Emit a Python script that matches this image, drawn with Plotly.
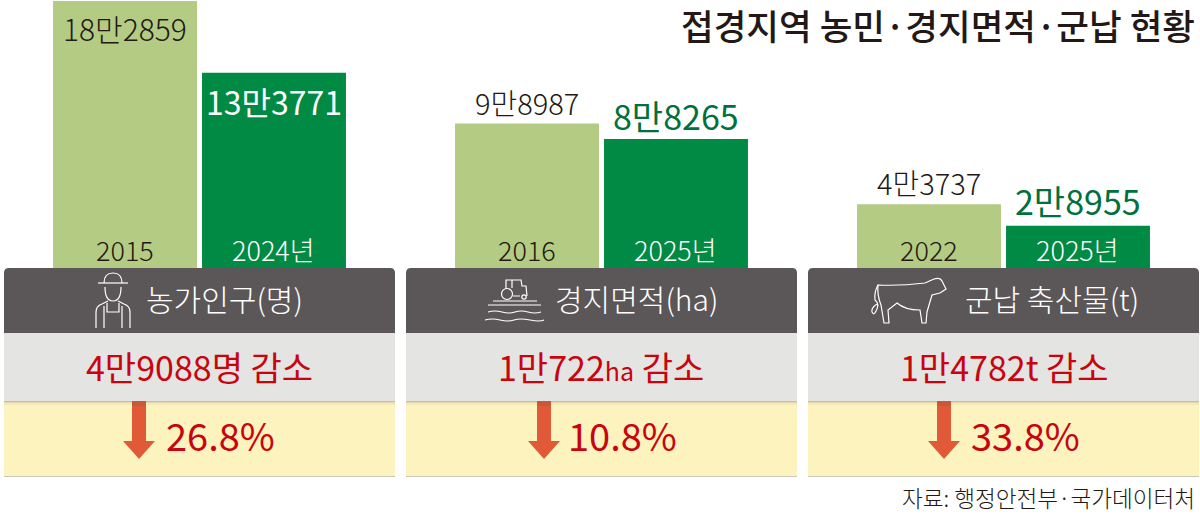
import plotly.graph_objects as go

FONT = "Noto Sans CJK KR"

# data
years_farm = ["2015", "2024년"]
years_land = ["2016", "2025년"]
years_army = ["2022", "2025년"]
values_farm = [182859, 133771]
values_land = [98987, 88265]
values_army = [43737, 28955]
labels_farm = ["18만2859", "13만3771"]
labels_land = ["9만8987", "8만8265"]
labels_army = ["4만3737", "2만8955"]
panel_names = ["농가인구(명)", "경지면적(ha)", "군납 축산물(t)"]
decreases = [
    "4만9088명 감소",
    "1만722<span style='font-size:25px'>ha</span> 감소",
    "1만4782t 감소",
]
percents = ["26.8%", "10.8%", "33.8%"]

LIGHT = "#B3CB82"
DARK = "#008A43"
RED = "#C8040F"

fig = go.Figure()

groups = [
    ("x", years_farm, values_farm, labels_farm, [0.0421, 0.2904]),
    ("x2", years_land, values_land, labels_land, [0.3771, 0.6254]),
    ("x3", years_army, values_army, labels_army, [0.7121, 0.9604]),
]
# offset of the value label from the bar top, and its look
label_styles = [
    [(-27, 30, "#231815", 300), (-28, 32, "white", 400)],
    [(21, 29, "#231815", 300), (24, 34, "#00713D", 400)],
    [(22, 29, "#231815", 300), (25, 34, "#00713D", 400)],
]

annotations = []
for (xname, years, values, labels, domain), styles in zip(groups, label_styles):
    fig.add_trace(
        go.Bar(
            x=years,
            y=values,
            xaxis=xname,
            yaxis="y",
            marker=dict(color=[LIGHT, DARK], line_width=0),
            hoverinfo="skip",
        )
    )
    axis_key = "xaxis" + xname[1:]
    fig.update_layout(
        {
            axis_key: dict(
                domain=domain,
                type="category",
                range=[-0.5, 1.5],
                visible=False,
                fixedrange=True,
                anchor="y",
            )
        }
    )
    for i in range(2):
        shift, size, color, weight = styles[i]
        # x is the category index: a name like "2015" would be read as a position
        annotations.append(
            dict(
                x=i, y=values[i], xref=xname, yref="y", text=labels[i],
                showarrow=False, yshift=shift, yanchor="middle",
                font=dict(family=FONT, size=size, color=color, weight=weight),
            )
        )
        annotations.append(
            dict(
                x=i, y=0, xref=xname, yref="y", text=years[i],
                showarrow=False, yshift=19, yanchor="middle",
                font=dict(family=FONT, size=27, weight=300,
                          color="#231815" if i == 0 else "white"),
            )
        )

# panels, drawn in pixel coordinates on a hidden full-size axis pair
shapes = []


def add_rect(x0, y0, x1, y1, color):
    shapes.append(
        dict(type="rect", xref="x4", yref="y4", x0=x0, y0=y0, x1=x1, y1=y1,
             fillcolor=color, line_width=0, layer="above")
    )


def add_path(path, fill=None, line=None, width=1.2):
    shapes.append(
        dict(type="path", xref="x4", yref="y4", path=path,
             fillcolor=fill or "rgba(0,0,0,0)",
             line=dict(color=line or "rgba(0,0,0,0)", width=width if line else 0),
             layer="above")
    )


def add_circle(cx, cy, r):
    shapes.append(
        dict(type="circle", xref="x4", yref="y4", x0=cx - r, y0=cy - r, x1=cx + r, y1=cy + r,
             line=dict(color="white", width=1.2), layer="above")
    )


panels = [(4, 395, 139, 199, 220), (406, 797, 544, 601, 622), (808, 1199, 944, 1004, 1025)]
text_x = [224, 636, 1052]

for i, (x0, x1, arrow_x, mid, pct_x) in enumerate(panels):
    add_path(
        f"M{x0},333 L{x0},273 Q{x0},268 {x0+5},268 L{x1-5},268 "
        f"Q{x1},268 {x1},273 L{x1},333 Z",
        fill="#5B5758",
    )
    add_rect(x0, 333, x1, 401, "#E4E4E2")
    add_rect(x0, 401, x1, 476, "#FDF3BE")
    add_rect(x0, 401, x1, 402, "#CDBF93")
    add_rect(x0, 402, x1, 403, "#E3D6A8")
    add_rect(x0, 403, x1, 405, "#F4E9B8")
    add_rect(x0, 476, x1, 477, "#C9C7B8")
    add_path(
        f"M{arrow_x-7},401 L{arrow_x+7},401 L{arrow_x+7},441 L{arrow_x+16},441 "
        f"L{arrow_x},459 L{arrow_x-16},441 L{arrow_x-7},441 Z",
        fill="#E05A38",
    )
    add_rect(arrow_x - 7, 401, arrow_x + 7, 406, "#C7583A")
    annotations.append(
        dict(x=text_x[i], y=298, xref="x4", yref="y4", text=panel_names[i],
             showarrow=False, xanchor="center", yanchor="middle",
             font=dict(family=FONT, size=30, color="white", weight=300))
    )
    annotations.append(
        dict(x=mid, y=366, xref="x4", yref="y4", text=decreases[i],
             showarrow=False, xanchor="center", yanchor="middle",
             font=dict(family=FONT, size=34, color=RED, weight=400))
    )
    annotations.append(
        dict(x=pct_x, y=434, xref="x4", yref="y4", text=percents[i],
             showarrow=False, xanchor="center", yanchor="middle",
             font=dict(family=FONT, size=38, color=RED, weight=400))
    )

# farmer icon
add_path("M98,283 L128,283", line="white")
add_path("M104,283 Q104,273 113,273 Q122,273 122,283", line="white")
add_path("M105,287 Q105,301 113,301 Q121,301 121,287", line="white")
add_path("M96,328 L96,312 Q96,306 102,304 L108,301 M130,328 L130,312 Q130,306 124,304 L118,301", line="white")
add_path("M104,328 L104,306 M122,328 L122,306 M107,303 L107,312 L119,312 L119,303", line="white")
# tractor icon
add_path("M506,289 L506,280 L521,280 L522,286 L526,286 L527,296 M512,280 L512,288 M513,296 L520,296", line="white")
add_circle(507, 294, 5.5)
add_circle(524, 297, 2.2)
add_path("M493,301 L537,301 M488,305 L541,305", line="white")
add_path("M488,312 Q495,310 502,312 T515,312 T528,312 T541,312", line="white")
add_path("M485,320 Q492,318 500,320 T514,320 T530,320 T544,320", line="white")
# cow icon
add_path(
    "M878,285 Q900,286 925,283 L934,279 Q940,277 942,281 L946,289 L940,293 L932,295 "
    "Q929,305 927,312 L926,323 L922,323 L920,310 Q905,310 897,303 L888,310 "
    "L889,323 L884,323 L881,305 Q877,295 878,285 Z",
    line="white",
)
add_path("M878,285 Q874,292 875,300 Q880,304 876,311 Q874,316 872,312 Q871,308 877,304", line="white")

annotations.append(
    dict(x=1197, y=24.5, xref="x4", yref="y4", text="접경지역 농민·경지면적·군납 현황",
         showarrow=False, xanchor="right", yanchor="middle",
         font=dict(family=FONT, size=35.5, color="#231815", weight=500))
)
annotations.append(
    dict(x=1197, y=497, xref="x4", yref="y4", text="자료: 행정안전부·국가데이터처",
         showarrow=False, xanchor="right", yanchor="middle",
         font=dict(family=FONT, size=22.6, color="#231815", weight=300))
)

fig.update_layout(
    width=1200,
    height=515,
    margin=dict(l=0, r=0, t=0, b=0),
    paper_bgcolor="white",
    plot_bgcolor="rgba(0,0,0,0)",
    showlegend=False,
    bargap=0.034,
    yaxis=dict(domain=[0.4796, 1], range=[0, 183500], visible=False, fixedrange=True),
    xaxis4=dict(domain=[0, 1], range=[0, 1200], visible=False, fixedrange=True, anchor="y4"),
    yaxis4=dict(domain=[0, 1], range=[515, 0], visible=False, fixedrange=True, anchor="x4"),
    shapes=shapes,
    annotations=annotations,
)

# the page has a default body margin that would push the chart off the window
fig.write_html(
    "out.html",
    config=dict(displayModeBar=False),
    post_script="document.body.style.margin='0';document.body.style.overflow='hidden';",
)
